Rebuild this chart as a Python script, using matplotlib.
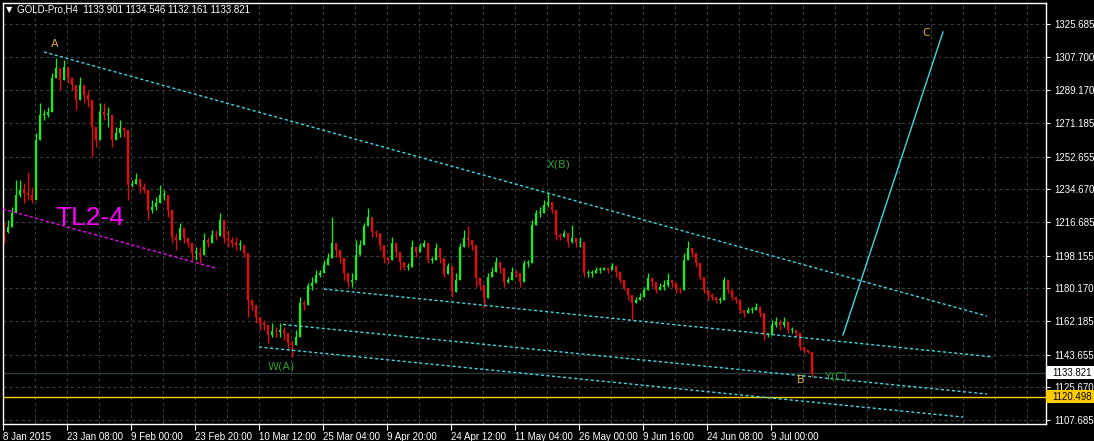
import matplotlib
matplotlib.use("Agg")
import matplotlib.pyplot as plt
from matplotlib.patches import Rectangle
import matplotlib.transforms as mtransforms
import numpy as np

plt.rcParams['lines.scale_dashes'] = False

# ---------------- data ----------------
symbol_title = "GOLD-Pro,H4  1133.901 1134.546 1132.161 1133.821"
first_open = 1216.0
closes = [
    1211.2, 1213.9, 1221.6, 1231.5, 1234.3, 1232.7, 1231.5, 1228.8, 1261.8, 1275.6,
    1275.6, 1277.2, 1296.0, 1301.5, 1294.9, 1302.0, 1296.0, 1292.1, 1283.9, 1292.1,
    1286.6, 1283.9, 1269.0, 1261.8, 1277.2, 1275.6, 1275.6, 1261.8, 1265.7, 1268.4,
    1267.3, 1237.1, 1237.6, 1240.4, 1236.0, 1234.3, 1223.3, 1225.0, 1227.2, 1231.5,
    1231.5, 1223.3, 1208.4, 1206.8, 1213.4, 1207.9, 1205.1, 1199.6, 1199.6, 1198.5,
    1206.8, 1205.1, 1209.5, 1209.0, 1217.8, 1207.9, 1206.8, 1205.1, 1204.0, 1204.0,
    1199.6, 1173.8, 1171.0, 1164.4, 1161.1, 1160.0, 1154.5, 1156.7, 1156.2, 1157.2,
    1155.6, 1150.1, 1149.0, 1153.4, 1172.1, 1171.0, 1181.5, 1183.1, 1187.5, 1188.6,
    1193.0, 1196.9, 1205.1, 1201.3, 1196.9, 1188.6, 1183.7, 1184.8, 1198.5, 1204.0,
    1214.5, 1219.4, 1211.2, 1210.6, 1204.0, 1196.9, 1195.8, 1205.1, 1200.2, 1194.7,
    1191.9, 1191.9, 1202.9, 1200.2, 1202.9, 1205.1, 1195.8, 1195.8, 1202.4, 1196.9,
    1188.1, 1192.5, 1178.2, 1184.8, 1202.9, 1207.9, 1206.8, 1204.0, 1185.9, 1182.0,
    1174.9, 1186.4, 1189.2, 1194.7, 1191.4, 1183.7, 1184.8, 1189.2, 1188.6, 1183.7,
    1194.1, 1194.1, 1215.0, 1221.6, 1221.6, 1226.1, 1227.7, 1223.3, 1209.5, 1208.4,
    1210.6, 1205.7, 1207.9, 1205.1, 1205.7, 1188.6, 1188.6, 1188.6, 1190.3, 1190.3,
    1191.4, 1190.3, 1192.5, 1189.2, 1184.8, 1180.4, 1176.5, 1172.1, 1173.8, 1175.4,
    1179.3, 1185.9, 1183.7, 1179.3, 1180.9, 1182.0, 1184.8, 1183.1, 1179.8, 1179.3,
    1195.8, 1202.4, 1199.6, 1194.1, 1186.4, 1179.3, 1176.5, 1175.4, 1173.8, 1173.8,
    1184.8, 1179.3, 1175.4, 1173.8, 1168.2, 1166.6, 1168.2, 1168.2, 1169.9, 1166.6,
    1154.5, 1154.5, 1160.0, 1161.6, 1160.0, 1161.6, 1157.2, 1157.2, 1155.6, 1147.9,
    1146.2, 1145.1, 1133.8,
]
highs = [
    1216.1, 1217.8, 1225.0, 1239.8, 1239.8, 1238.1, 1244.2, 1236.0, 1265.7, 1282.2,
    1278.3, 1280.0, 1298.7, 1307.0, 1298.7, 1305.9, 1298.7, 1296.5, 1287.7, 1296.5,
    1291.0, 1289.4, 1274.5, 1265.7, 1282.2, 1282.2, 1280.0, 1265.7, 1269.0, 1272.8,
    1269.0, 1267.3, 1239.8, 1243.7, 1239.8, 1238.1, 1228.8, 1228.8, 1230.5, 1237.1,
    1234.3, 1228.8, 1210.6, 1210.6, 1216.1, 1210.6, 1208.4, 1202.9, 1202.9, 1202.9,
    1210.6, 1208.4, 1212.3, 1212.3, 1221.6, 1210.6, 1212.3, 1208.4, 1208.4, 1206.8,
    1201.3, 1197.4, 1173.8, 1168.2, 1164.4, 1162.7, 1157.2, 1161.1, 1158.9, 1161.1,
    1158.9, 1155.6, 1151.7, 1157.2, 1175.4, 1173.8, 1183.1, 1186.4, 1190.3, 1190.3,
    1195.8, 1199.6, 1219.4, 1205.1, 1199.6, 1191.9, 1186.4, 1188.6, 1206.8, 1206.8,
    1216.1, 1224.4, 1213.9, 1212.3, 1206.8, 1199.6, 1197.4, 1208.4, 1202.9, 1199.6,
    1194.1, 1194.1, 1206.8, 1202.9, 1205.1, 1206.8, 1197.4, 1197.4, 1205.1, 1199.6,
    1190.3, 1194.1, 1180.9, 1188.6, 1205.1, 1212.3, 1214.5, 1206.8, 1191.9, 1184.8,
    1177.6, 1188.6, 1191.9, 1197.4, 1194.1, 1186.4, 1186.4, 1191.9, 1190.3, 1186.4,
    1195.8, 1195.8, 1217.8, 1223.3, 1225.0, 1228.8, 1232.7, 1225.0, 1212.3, 1210.6,
    1212.3, 1208.4, 1215.0, 1206.8, 1208.4, 1190.3, 1190.3, 1190.3, 1191.9, 1191.9,
    1191.9, 1191.9, 1194.1, 1191.9, 1186.4, 1184.8, 1179.3, 1173.8, 1175.4, 1177.6,
    1180.9, 1188.6, 1186.4, 1180.9, 1183.1, 1184.8, 1188.6, 1184.8, 1180.9, 1180.9,
    1199.6, 1206.2, 1201.3, 1195.8, 1188.6, 1180.4, 1179.3, 1177.6, 1175.4, 1175.4,
    1186.4, 1180.9, 1177.6, 1175.4, 1169.9, 1168.2, 1169.9, 1169.9, 1172.1, 1168.2,
    1157.2, 1155.6, 1162.7, 1164.4, 1162.7, 1164.4, 1158.9, 1158.9, 1157.2, 1150.1,
    1147.9, 1146.2, 1136.9,
]
lows = [
    1205.1, 1210.6, 1217.8, 1221.6, 1230.5, 1227.2, 1228.8, 1227.2, 1256.3, 1269.0,
    1272.8, 1274.5, 1293.2, 1298.7, 1289.4, 1298.7, 1293.2, 1289.4, 1278.3, 1287.7,
    1282.2, 1280.0, 1252.5, 1258.0, 1272.8, 1272.8, 1269.0, 1258.0, 1261.8, 1263.5,
    1263.5, 1228.8, 1236.0, 1238.1, 1232.7, 1232.7, 1217.8, 1221.6, 1223.3, 1227.2,
    1228.8, 1219.4, 1205.1, 1201.3, 1210.6, 1205.1, 1202.9, 1195.8, 1195.8, 1194.1,
    1205.1, 1202.9, 1206.8, 1206.8, 1212.3, 1205.1, 1202.9, 1202.9, 1201.3, 1201.3,
    1197.4, 1164.4, 1168.2, 1161.1, 1157.2, 1157.2, 1150.1, 1153.4, 1153.4, 1153.4,
    1151.7, 1146.2, 1142.4, 1150.1, 1168.2, 1168.2, 1179.3, 1179.3, 1184.8, 1186.4,
    1190.3, 1194.1, 1201.3, 1197.4, 1194.1, 1184.8, 1180.9, 1180.9, 1191.9, 1201.3,
    1212.3, 1216.1, 1208.4, 1208.4, 1201.3, 1194.1, 1194.1, 1202.9, 1197.4, 1190.3,
    1190.3, 1190.3, 1199.6, 1197.4, 1201.3, 1202.9, 1194.1, 1194.1, 1199.6, 1194.1,
    1186.4, 1190.3, 1175.4, 1180.9, 1199.6, 1202.9, 1202.9, 1201.3, 1180.9, 1179.3,
    1169.9, 1184.8, 1186.4, 1191.9, 1188.6, 1180.9, 1183.1, 1186.4, 1186.4, 1180.9,
    1191.9, 1191.9, 1212.3, 1219.4, 1219.4, 1223.3, 1225.0, 1221.6, 1206.8, 1206.8,
    1208.4, 1202.9, 1205.1, 1202.9, 1202.9, 1186.4, 1186.4, 1186.4, 1188.6, 1188.6,
    1190.3, 1188.6, 1190.3, 1186.4, 1183.1, 1179.3, 1173.8, 1162.7, 1172.1, 1173.8,
    1177.6, 1183.1, 1180.9, 1177.6, 1179.3, 1179.3, 1180.9, 1180.9, 1177.6, 1177.6,
    1191.9, 1199.6, 1197.4, 1191.9, 1184.8, 1177.6, 1173.8, 1173.8, 1172.1, 1172.1,
    1183.1, 1177.6, 1173.8, 1172.1, 1166.6, 1164.4, 1166.6, 1166.6, 1168.2, 1164.4,
    1151.7, 1153.4, 1157.2, 1158.9, 1157.2, 1158.9, 1155.6, 1155.6, 1153.4, 1146.2,
    1144.8, 1144.8, 1131.4,
]

price_ticks = [1325.685, 1307.700, 1289.170, 1271.185, 1252.655, 1234.670, 1216.685,
               1198.155, 1180.170, 1162.185, 1143.655, 1125.670, 1107.685]
date_labels = ["8 Jan 2015", "23 Jan 08:00", "9 Feb 00:00", "23 Feb 20:00", "10 Mar 12:00",
               "25 Mar 04:00", "9 Apr 20:00", "24 Apr 12:00", "11 May 04:00", "26 May 00:00",
               "9 Jun 16:00", "24 Jun 08:00", "9 Jul 00:00"]

current_price = 1133.821
level_price = 1120.498

# trendlines: (bar index, price) pairs
tl_upper = [(10.0, 1310.3), (245.75, 1164.9)]
tl_mid1 = [(80.0, 1179.8), (247.25, 1142.4)]
tl_mid2 = [(69.75, 1160.3), (245.75, 1122.0)]
tl_low = [(63.75, 1147.9), (239.75, 1109.3)]
tl_magenta = [(-0.25, 1223.8), (52.75, 1191.4)]
proj_line = [(209.75, 1154.5), (234.75, 1321.3)]

wave_labels = [("A", 12.75, 1314.7, "#E0B020"), ("X(B)", 138.75, 1248.1, "#2E9E2E"),
               ("W(A)", 69.25, 1137.4, "#2E9E2E"), ("Y(C)", 208.25, 1131.9, "#2E9E2E"),
               ("B", 199.25, 1129.7, "#E0B020"), ("C", 230.5, 1320.7, "#E0B020")]

# ---------------- figure ----------------
W, H = 1094, 441
fig = plt.figure(figsize=(W / 100, H / 100), dpi=100, facecolor="black")
x0, x1, y0, y1 = 3, 1046, 3, 424
ax = fig.add_axes([x0 / W, 1 - y1 / H, (x1 - x0) / W, (y1 - y0) / H], facecolor="black")

ax.set_xlim(-0.25, 260.5)
ax.set_ylim(1105.5, 1337.25)

# grid
grid_kw = dict(color="#34403f", lw=0.8, linestyle=(0, (2.2, 2.2)), zorder=0)
for k in range(0, 33):
    ax.axvline(8 * k - 0.25, **grid_kw)
for p in price_ticks:
    ax.axhline(p, **grid_kw)

# current price line and level line
ax.axhline(current_price, color="#2a3c3c", lw=1, zorder=1)
ax.axhline(level_price, color="#FFCC00", lw=1, zorder=3)

# candles
idx = np.arange(len(closes))
opens = np.array([first_open] + closes[:-1])
cl = np.array(closes)
hi_w = np.maximum(np.array(highs), np.maximum(opens, cl))
lo_w = np.minimum(np.array(lows), np.minimum(opens, cl))
lo = np.minimum(opens, cl)
hi = np.maximum(opens, cl)
colors = np.where(cl >= opens, "#00FF00", "#FF0000")
ax.vlines(idx, lo_w, hi_w, colors=colors, lw=0.9, zorder=2)
ax.bar(idx, np.maximum(hi - lo, 0.5), bottom=lo, width=0.72, color=colors, linewidth=0, zorder=2)

# trendlines
dash_kw = dict(lw=1, linestyle=(0, (2.2, 1.8)), zorder=4)
for seg in (tl_upper, tl_mid1, tl_mid2, tl_low):
    ax.plot([seg[0][0], seg[1][0]], [seg[0][1], seg[1][1]], color="#3FD8E6", **dash_kw)
ax.plot([tl_magenta[0][0], tl_magenta[1][0]], [tl_magenta[0][1], tl_magenta[1][1]],
        color="#FF00FF", **dash_kw)
ax.plot([proj_line[0][0], proj_line[1][0]], [proj_line[0][1], proj_line[1][1]],
        color="#3FD8E6", lw=1, zorder=4)

# labels
for txt, xi, pr, c in wave_labels:
    ax.text(xi, pr, txt, color=c, fontsize=8, ha="center", va="center",
            family="DejaVu Sans", zorder=5)
ax.text(21.5, 1218.9, "TL2-4", color="#FF00FF", fontsize=19, ha="center", va="center",
        family="Liberation Sans", zorder=5)

# frame
for s in ax.spines.values():
    s.set_color("white")
    s.set_linewidth(1)

# axes ticks
ax.yaxis.tick_right()
ax.set_yticks(price_ticks)
ax.set_yticklabels([f"{p:.3f}" for p in price_ticks])
ax.tick_params(axis="y", colors="white", labelcolor="white", length=3, width=0.8,
               labelsize=7, pad=3)
xt = [16 * k - 0.25 for k in range(len(date_labels))]
ax.set_xticks(xt)
ax.set_xticklabels(date_labels)
ax.tick_params(axis="x", colors="white", labelcolor="white", length=4, width=0.8,
               labelsize=7, pad=2)
for lab in ax.get_xticklabels():
    lab.set_horizontalalignment("left")
for lab in ax.get_xticklabels() + ax.get_yticklabels():
    lab.set_family("Liberation Sans")

# price boxes on right axis
blend = mtransforms.blended_transform_factory(ax.transAxes, ax.transData)
bw = (W - x1) / (x1 - x0)
bh = 13 * (1337.25 - 1105.5) / (y1 - y0)
for pr, fc in ((current_price, "white"), (level_price, "#FFCC00")):
    ax.add_patch(Rectangle((1.0, pr - bh / 2), bw, bh, transform=blend, facecolor=fc,
                           edgecolor="none", clip_on=False, zorder=10))
    ax.text(1.0 + 6 / (x1 - x0), pr, f"{pr:.3f}", transform=blend, color="black",
            fontsize=7, va="center", ha="left", family="Liberation Sans", zorder=11,
            clip_on=False)

# title
fig.text(6 / W, 1 - 10 / H, "\u25BC", color="white", fontsize=6, va="center", ha="left",
         family="DejaVu Sans")
fig.text(17 / W, 1 - 10 / H, symbol_title, color="white", fontsize=7, va="center",
         ha="left", family="Liberation Sans")

fig.savefig("out.png", dpi=100, facecolor="black")
